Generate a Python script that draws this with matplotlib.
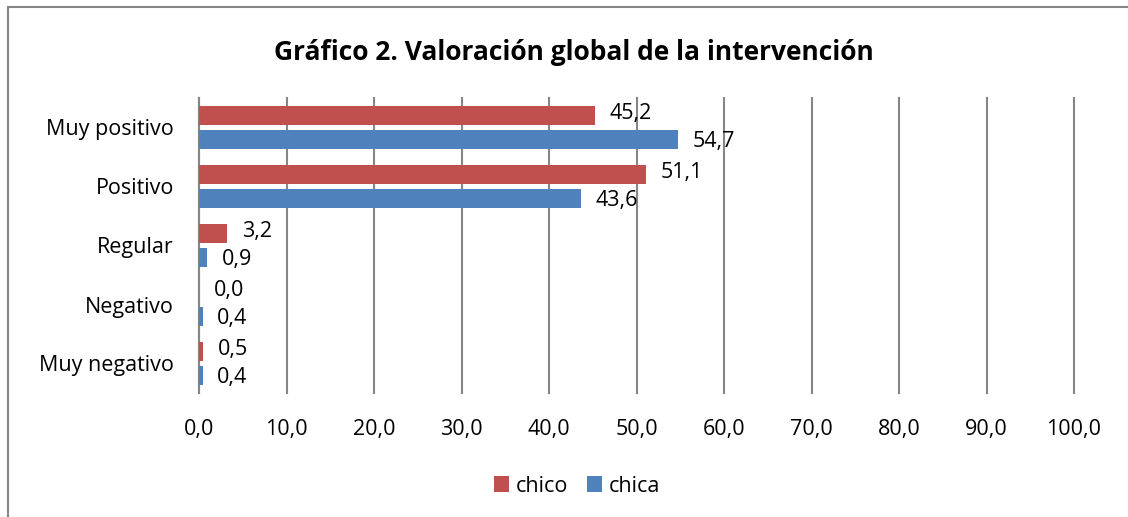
import numpy as np
import matplotlib.pyplot as plt
from matplotlib.patches import Rectangle

categories = ['Muy positivo', 'Positivo', 'Regular', 'Negativo', 'Muy negativo']
chico = [45.2, 51.1, 3.2, 0.0, 0.5]
chica = [54.7, 43.6, 0.9, 0.4, 0.4]
x_ticks = [0, 10, 20, 30, 40, 50, 60, 70, 80, 90, 100]

red = '#C0504D'
blue = '#4F81BD'
grid_col = '#868686'

plt.rcParams['font.family'] = ['Open Sans', 'DejaVu Sans']
fs = 15.5

W, H = 1128, 517
fig = plt.figure(figsize=(W / 100, H / 100), dpi=100)
# plot area in pixel coords: x 199..1074, y 98..393
ax = fig.add_axes([199 / W, 1 - 393 / H, (1074 - 199) / W, (393 - 98) / H])

y = np.arange(len(categories))[::-1]
h = 0.32
off = 0.21
ax.barh(y + off, chico, height=h, color=red, label='chico', zorder=3)
ax.barh(y - off, chica, height=h, color=blue, label='chica', zorder=3)

for yi, v in zip(y, chico):
    ax.annotate(f'{v:.1f}'.replace('.', ','), (v, yi + off), xytext=(10.5, 1),
                textcoords='offset points', va='center', ha='left', fontsize=fs, zorder=4)
for yi, v in zip(y, chica):
    ax.annotate(f'{v:.1f}'.replace('.', ','), (v, yi - off), xytext=(10.5, -1),
                textcoords='offset points', va='center', ha='left', fontsize=fs, zorder=4)

ax.set_xlim(0, 100)
ax.set_ylim(-0.5, len(categories) - 0.5)
ax.set_xticks(x_ticks)
ax.set_xticklabels([f'{t:.1f}'.replace('.', ',') for t in x_ticks], fontsize=fs)
ax.set_yticks(y)
ax.set_yticklabels(categories, fontsize=fs)
ax.tick_params(axis='both', length=0)
ax.tick_params(axis='x', pad=19)
ax.tick_params(axis='y', pad=18)

ax.grid(axis='x', color=grid_col, linewidth=1.5, zorder=0)
for gl in ax.get_xgridlines():
    gl.set_clip_on(False)
for s in ['top', 'right', 'bottom']:
    ax.spines[s].set_visible(False)
ax.spines['left'].set_color(grid_col)
ax.spines['left'].set_linewidth(1.5)

fig.text(574 / W, 1 - 52 / H, 'Gráfico 2. Valoración global de la intervención',
         ha='center', va='center', fontsize=19, fontweight='bold')

leg = fig.legend(loc='center', bbox_to_anchor=(577 / W, 1 - 486 / H), ncol=2,
                 frameon=False, fontsize=fs, handlelength=0.7, handleheight=0.7,
                 handletextpad=0.3, columnspacing=0.9)

# outer chart border (cut off at right and bottom)
fig.patches.append(Rectangle((7.5 / W, -0.1), 1.2, 1 - 6.5 / H + 0.1,
                             transform=fig.transFigure, fill=False,
                             edgecolor=grid_col, linewidth=1.5))

fig.savefig('out.png', dpi=100)
